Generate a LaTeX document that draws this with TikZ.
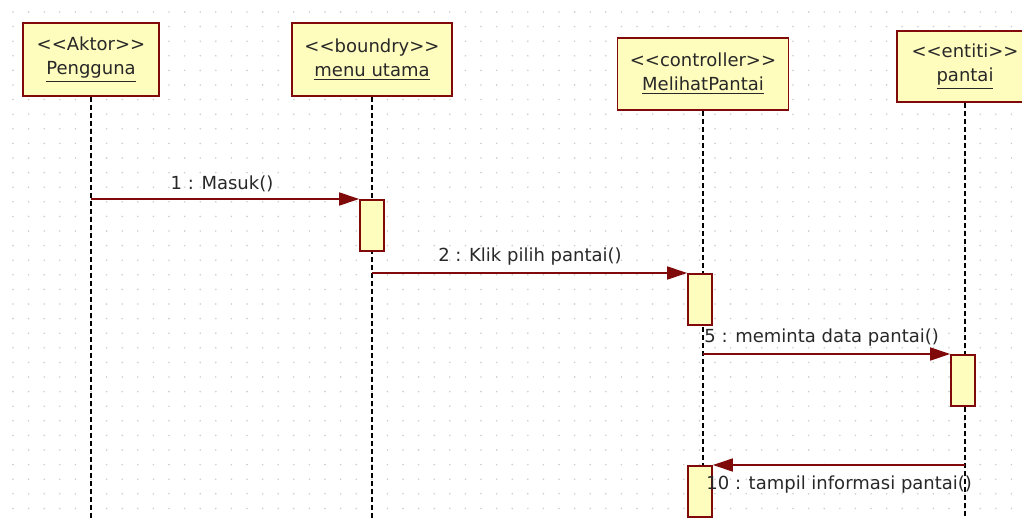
\documentclass[tikz,border=0pt]{standalone}
\usepackage{fontspec}
\newfontfamily\umlfont{DejaVu Sans}
\usetikzlibrary{arrows.meta,positioning}

\definecolor{umlred}{RGB}{128,10,10}
\definecolor{umlfill}{RGB}{255,253,190}
\definecolor{dotgray}{RGB}{205,205,205}
\definecolor{umltext}{RGB}{40,40,40}

\tikzset{
  objbox/.style={draw=umlred, fill=umlfill, line width=0.9pt, align=center,
    text=umltext, font=\umlfont\fontsize{9}{12}\selectfont},
  lifeline/.style={draw=black, line width=0.8pt, dash pattern=on 2.5pt off 1.5pt},
  actbox/.style={draw=umlred, fill=umlfill, line width=0.8pt,
    minimum width=12pt, minimum height=25.5pt, inner sep=0pt},
  msg/.style={draw=umlred, line width=0.75pt, -{Triangle[length=10pt,width=6.5pt]}},
  msglabel/.style={font=\umlfont\fontsize{9}{12}\selectfont, text=umltext, inner sep=0pt}
}

\begin{document}
\begin{tikzpicture}[x=0.5pt, y=-0.5pt]
    \useasboundingbox (0,0) rectangle (1022,519);
    \clip (0,0) rectangle (1022,519);

    % dotted background grid
    \foreach \gx in {13,28.6,...,1022}
      \foreach \gy in {12,26.6,...,519}
        \fill[dotgray] (\gx,\gy) circle (0.45pt);

    % object boxes
    \node[objbox, minimum width=68pt, minimum height=36.5pt] (aktor) at (91,59.5)
      {<{}<Aktor>{}>\\\underline{Pengguna}};
    \node[objbox, minimum width=80pt, minimum height=36.5pt] (menu) at (372,59.5)
      {<{}<boundry>{}>\\\underline{menu utama}};
    \node[objbox, minimum width=85.5pt, minimum height=36pt] (ctrl) at (703,74)
      {<{}<controller>{}>\\\underline{MelihatPantai}};
    \node[objbox, minimum width=68pt, minimum height=35.5pt] (pantai) at (965,66.5)
      {<{}<entiti>{}>\\\underline{pantai}};

    % lifelines
    \coordinate (bottom) at (0,519);
    \draw[lifeline] (aktor.south) -- (aktor.south |- bottom);
    \draw[lifeline] (menu.south) -- (menu.south |- bottom);
    \draw[lifeline] (ctrl.south) -- (ctrl.south |- bottom);
    \draw[lifeline] (pantai.south) -- (pantai.south |- bottom);

    % activations
    \node[actbox, anchor=north] (act1) at (372,199) {};
    \node[actbox, anchor=north] (act2) at (700,273) {};
    \node[actbox, anchor=north] (act3) at (963,354) {};
    \node[actbox, anchor=north] (act4) at (700,465) {};

    % messages
    \coordinate (m1) at (91,199);
    \coordinate (m2) at (372,273);
    \coordinate (m5) at (703,354);
    \coordinate (m10) at (965,465);
    \draw[msg] (m1) -- (act1.north west);
    \draw[msg] (m2) -- (act2.north west);
    \draw[msg] (m5) -- (act3.north west);
    \draw[msg] (m10) -- (act4.north east);

    % message labels
    \node[msglabel] (l1) at (222,184) {1 : Masuk()};
    \node[msglabel] (l2) at (530,257) {2 : Klik pilih pantai()};
    \node[msglabel, anchor=west] (l5) at (704,338) {5 : meminta data pantai()};
    \node[msglabel, anchor=west] (l10) at (706,485) {10 : tampil informasi pantai()};

\end{tikzpicture}
\end{document}
